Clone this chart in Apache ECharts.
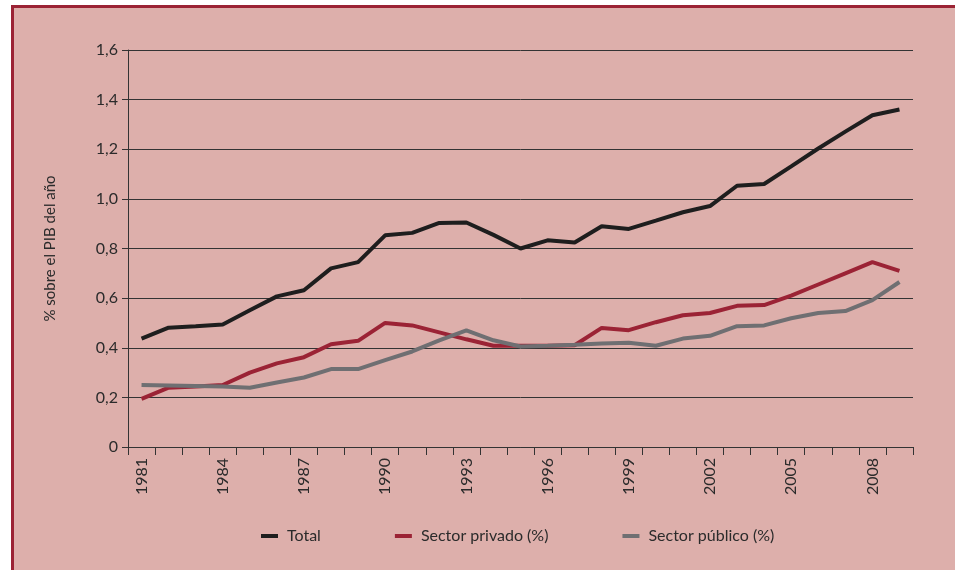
<!DOCTYPE html>
<html>
<head>
<meta charset="utf-8">
<script src="https://cdn.jsdelivr.net/npm/echarts@6/dist/echarts.min.js"></script>
<style>
    body{margin:0;background:#fff;}
    #frame{position:absolute;left:11px;top:5px;width:960px;height:580px;background:#ddafab;border-left:3px solid #9b2335;border-top:3px solid #9b2335;}
    #main{position:absolute;left:0;top:0;width:955px;height:570px;}
</style>
</head>
<body>
<div id="frame"></div>
<div id="main"></div>
<script>
    let years = [];
    for(let y=1981;y<=2009;y++){
        years.push(String(y));
    }
    // valores (% sobre el PIB)
    let dataMap = {
        total:{
            text:'Total',
            color:'#1e1e1e',
            data:[0.437,0.481,0.487,0.494,0.551,0.607,0.632,0.72,0.745,0.853,0.863,0.903,0.905,0.855,0.80,
                0.833,0.824,0.89,0.879,0.912,0.946,0.971,1.053,1.06,1.131,1.203,1.271,1.337,1.36]
        },
        privado:{
            text:'Sector privado (%)',
            color:'#9b2335',
            data:[0.194,0.239,0.244,0.25,0.30,0.337,0.362,0.414,0.428,0.50,0.49,0.462,0.434,0.408,0.408,
                0.408,0.41,0.48,0.471,0.503,0.531,0.54,0.569,0.572,0.61,0.655,0.70,0.745,0.71]
        },
        publico:{
            text:'Sector público (%)',
            color:'#6f6f72',
            data:[0.25,0.248,0.246,0.244,0.239,0.26,0.28,0.314,0.314,0.35,0.385,0.43,0.47,0.43,0.405,
                0.408,0.412,0.417,0.42,0.408,0.437,0.448,0.487,0.49,0.519,0.54,0.548,0.592,0.665]
        }
    }

    let series = [];
    let legend = [];
    for(let k in dataMap){
        let kData = dataMap[k];
        series.push({
            name: kData.text,
            type: 'line',
            showSymbol: false,
            data: kData.data,
            lineStyle: {width: 4, color: kData.color},
            itemStyle: {color: kData.color}
        })
        legend.push(kData.text)
    }

    let txt = '#2b2b2b';
    let font = 'Lato';
    let myChart = echarts.init(document.getElementById('main'));
    let option = {
        backgroundColor: 'transparent',
        animation: false,
        textStyle: {fontFamily: font, color: txt},
        grid: {left: 128, right: 42, top: 50, bottom: 123},
        legend: {
            data: legend,
            left: 256,
            top: 523,
            icon: 'rect',
            itemWidth: 17,
            itemHeight: 4,
            itemGap: 74,
            textStyle: {fontFamily: font, fontSize: 16, color: txt, padding: [0, 0, 0, 4]}
        },
        xAxis: {
            type: 'category',
            data: years,
            boundaryGap: true,
            axisLine: {lineStyle: {color: '#333', width: 1}},
            axisTick: {show: true, interval: 0, length: 8, lineStyle: {color: '#333'}},
            axisLabel: {
                interval: 2,
                rotate: 90,
                margin: 11,
                fontFamily: font,
                fontSize: 16,
                color: txt
            }
        },
        yAxis: {
            type: 'value',
            min: 0,
            max: 1.6,
            interval: 0.2,
            name: '% sobre el PIB del año',
            nameLocation: 'middle',
            nameGap: 70,
            nameTextStyle: {fontFamily: font, fontSize: 15, color: txt},
            axisLine: {show: true, lineStyle: {color: '#333', width: 1}},
            axisTick: {show: true, length: 6, lineStyle: {color: '#333'}},
            splitLine: {lineStyle: {color: '#333', width: 1}},
            axisLabel: {
                margin: 10,
                fontFamily: font,
                fontSize: 16,
                color: txt,
                formatter: function(v){
                    return v === 0 ? '0' : v.toFixed(1).replace('.', ',');
                }
            }
        },
        series: series
    };
    myChart.setOption(option);
</script>
</body>
</html>
